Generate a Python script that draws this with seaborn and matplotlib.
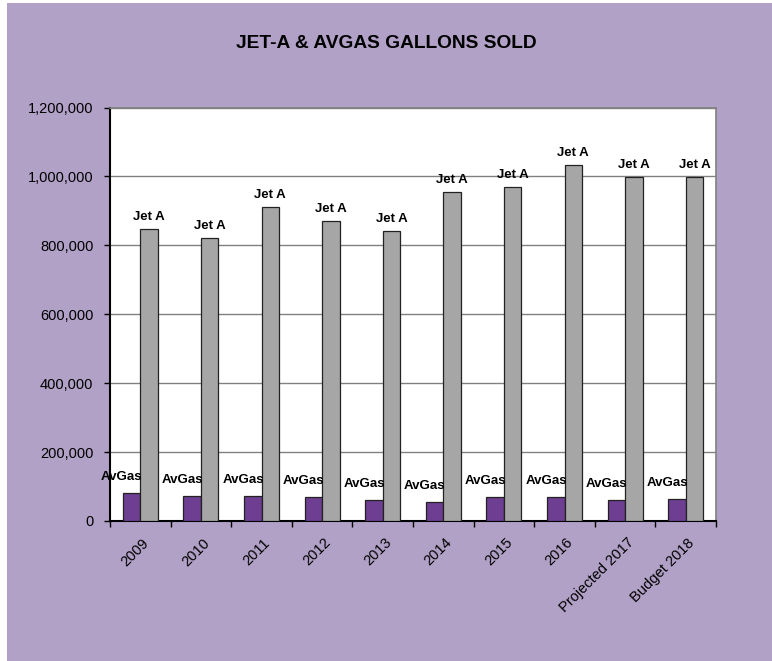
import matplotlib
matplotlib.use("Agg")
import matplotlib.pyplot as plt
import seaborn as sns
import pandas as pd
from matplotlib.patches import Rectangle
from matplotlib.ticker import FuncFormatter, MultipleLocator, FixedLocator
from matplotlib.transforms import ScaledTranslation

categories = ["2009", "2010", "2011", "2012", "2013", "2014", "2015", "2016",
              "Projected 2017", "Budget 2018"]
avgas = [81000, 73000, 73000, 69000, 60000, 55000, 69000, 69000, 60000, 62500]
jeta = [848000, 820000, 910000, 870000, 841000, 954000, 968000, 1033000, 998000, 998000]
series_names = ["AvGas", "Jet A"]
title = "JET-A & AVGAS GALLONS SOLD"

df = pd.DataFrame({
    "year": categories * 2,
    "gallons": avgas + jeta,
    "fuel": [series_names[0]] * len(categories) + [series_names[1]] * len(categories),
})

sns.set_theme(style="white")
plt.rcParams["font.family"] = ["Liberation Sans", "DejaVu Sans"]

fig = plt.figure(figsize=(7.72, 6.61), dpi=100)
fig.patch.set_facecolor("white")
fig.patches.append(Rectangle((7 / 772, 0), 1 - 7 / 772, 1 - 3 / 661,
                             transform=fig.transFigure, facecolor="#B1A1C7",
                             edgecolor="none", zorder=-10))

ax = fig.add_axes([110 / 772, 140 / 661, (716 - 110) / 772, (521 - 107.5) / 661])
ax.set_facecolor("white")

sns.barplot(data=df, x="year", y="gallons", hue="fuel", order=categories,
            hue_order=series_names, palette=["#7030A0", "#A6A6A6"],
            width=0.58, edgecolor="#222222", linewidth=0.9, ax=ax,
            legend=False, zorder=3)

ax.set_ylim(0, 1200000)
ax.set_xlim(-0.5, len(categories) - 0.5)
ax.yaxis.set_major_locator(MultipleLocator(200000))
ax.yaxis.set_major_formatter(FuncFormatter(lambda v, p: f"{int(v):,}"))
ax.grid(axis="y", color="#808080", linewidth=1.0, zorder=0)
ax.set_axisbelow(True)

for s in ["top", "right"]:
    ax.spines[s].set_color("#808080")
    ax.spines[s].set_linewidth(1.2)
for s in ["left", "bottom"]:
    ax.spines[s].set_color("black")
    ax.spines[s].set_linewidth(1.5)

ax.set_xlabel("")
ax.set_ylabel("")
ax.tick_params(axis="y", which="major", left=True, length=4, width=1,
               color="black", labelsize=10.5, pad=8, labelcolor="black")
ax.tick_params(axis="x", which="major", bottom=False, length=0,
               labelsize=10.5, pad=10.5, labelcolor="black")
ax.xaxis.set_minor_locator(FixedLocator([i - 0.5 for i in range(len(categories) + 1)]))
ax.tick_params(axis="x", which="minor", bottom=True, length=4, width=1, color="black")
shift = ScaledTranslation(1.5 / 100, 0, fig.dpi_scale_trans)
for lbl in ax.get_xticklabels():
    lbl.set_rotation(45)
    lbl.set_ha("right")
    lbl.set_rotation_mode("anchor")
    lbl.set_transform(lbl.get_transform() + shift)

# data labels
containers = ax.containers
for bar, name in zip(containers[0], [series_names[0]] * len(categories)):
    x = bar.get_x() + bar.get_width() / 2
    ax.annotate(name, (x, bar.get_height()), xytext=(-7, 9.5),
                textcoords="offset points", ha="center", va="baseline",
                fontsize=9.5, fontweight="bold", color="black", zorder=5)
for bar, name in zip(containers[1], [series_names[1]] * len(categories)):
    x = bar.get_x() + bar.get_width() / 2
    ax.annotate(name, (x, bar.get_height()), xytext=(0, 6.5),
                textcoords="offset points", ha="center", va="baseline",
                fontsize=9.5, fontweight="bold", color="black", zorder=5)

fig.text(0.501, 1 - 43 / 661, title, ha="center", va="center",
         fontsize=13.8, fontweight="bold", color="black")

fig.savefig("out.png", dpi=100, facecolor=fig.get_facecolor())
